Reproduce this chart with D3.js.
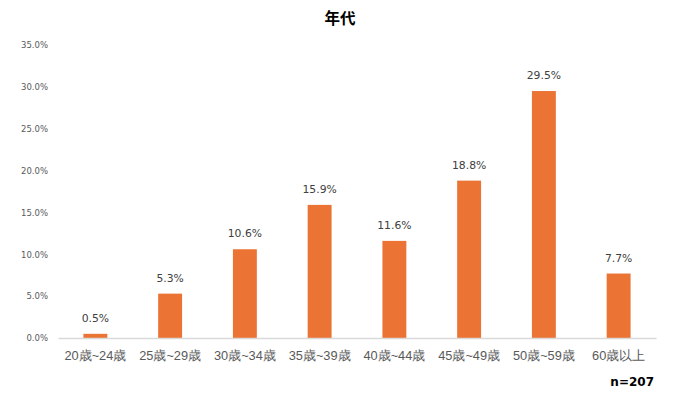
<!DOCTYPE html>
<html><head><meta charset="utf-8">
<script src="https://cdn.jsdelivr.net/npm/d3@7"></script>
<style>
html,body{margin:0;padding:0;background:#fff;}
svg{display:block;font-family:"DejaVu Sans","Noto Sans CJK JP",sans-serif;}
</style></head>
<body><div id="chart"></div>
<script>
const categories = ["20歳~24歳","25歳~29歳","30歳~34歳","35歳~39歳","40歳~44歳","45歳~49歳","50歳~59歳","60歳以上"];
const values = [0.5, 5.3, 10.6, 15.9, 11.6, 18.8, 29.5, 7.7];
const yTicks = [0, 5, 10, 15, 20, 25, 30, 35];
const title = "年代";
const note = "n=207";

const W = 678, H = 394;
const m = {left:58, right:22, top:45, bottom:56};
const svg = d3.select("#chart").append("svg").attr("width", W).attr("height", H);

const x = d3.scaleBand().domain(categories).range([m.left, W - m.right]).paddingInner(0.68).paddingOuter(0.34);
const y = d3.scaleLinear().domain([0, 35]).range([H - m.bottom, m.top]);

svg.append("text").attr("x", 340).attr("y", 24).attr("text-anchor","middle")
  .attr("font-family","'Noto Sans CJK JP',sans-serif").attr("font-weight","bold")
  .attr("font-size", 15.5).attr("fill","#000").text(title);

// y axis labels
const ya = svg.append("g").attr("transform", `translate(${m.left},0)`)
  .call(d3.axisLeft(y).tickValues(yTicks).tickSize(0).tickPadding(10).tickFormat(d => d.toFixed(1) + "%"));
ya.select(".domain").remove();
ya.selectAll("text").attr("font-size", 8.5).attr("fill", "#595959").attr("font-family","'DejaVu Sans',sans-serif");

// bars
svg.append("g").selectAll("rect").data(values).join("rect")
  .attr("x", (d,i) => x(categories[i]))
  .attr("width", x.bandwidth())
  .attr("y", d => y(d))
  .attr("height", d => y(0) - y(d))
  .attr("fill", "#EB7333");

// x axis
const xa = svg.append("g").attr("transform", `translate(0,${y(0)})`)
  .call(d3.axisBottom(x).tickSize(0).tickPadding(13).tickSizeOuter(0));
xa.select(".domain").attr("stroke", "#D9D9D9").attr("stroke-width", 1.5);
xa.selectAll("text").attr("font-size", 12.8).attr("fill", "#595959");

// data labels
svg.append("g").selectAll("text").data(values).join("text")
  .attr("x", (d,i) => x(categories[i]) + x.bandwidth()/2)
  .attr("y", d => y(d) - 12)
  .attr("text-anchor","middle")
  .attr("font-size", 10.8).attr("fill", "#404040")
  .text(d => d.toFixed(1) + "%");

svg.append("text").attr("x", 654).attr("y", 386).attr("text-anchor","end")
  .attr("font-weight","bold").attr("font-size", 12).attr("fill","#000").text(note);
</script></body></html>
